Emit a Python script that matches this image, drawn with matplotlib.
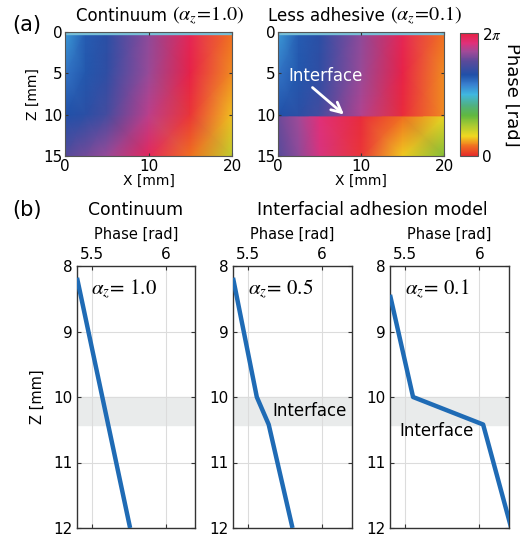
import numpy as np
import matplotlib
matplotlib.use("Agg")
import matplotlib.pyplot as plt
from matplotlib.colors import LinearSegmentedColormap, Normalize
from matplotlib.cm import ScalarMappable

plt.rcParams["font.family"] = ["DejaVu Sans"]
plt.rcParams["mathtext.fontset"] = "stix"

# ---- (a) phase maps, coarse grid (fraction of 2pi) ----
map_x = [0, 2.5, 5, 10, 15, 20]
cont_z = [0, 5, 10, 15]
cont_phase = [
    [0.54, 0.64, 0.68, 0.83, 0.97, 1.08],
    [0.60, 0.65, 0.69, 0.84, 0.99, 1.10],
    [0.66, 0.68, 0.73, 0.88, 1.02, 1.14],
    [0.76, 0.80, 0.84, 0.96, 1.08, 1.22],
]
less_z = [0, 5, 10.2, 10.3, 15]
less_phase = [
    [0.54, 0.64, 0.68, 0.83, 0.97, 1.08],
    [0.60, 0.65, 0.69, 0.84, 0.99, 1.10],
    [0.66, 0.68, 0.73, 0.87, 1.01, 1.10],
    [0.79, 0.85, 0.92, 1.01, 1.08, 1.17],
    [0.76, 0.83, 0.91, 1.02, 1.15, 1.29],
]

# ---- (b) depth profiles ----
z_cont = [8.18, 12.0]
ph_cont = [5.40, 5.76]
z_05 = [8.18, 10.0, 10.42, 12.0]
ph_05 = [5.40, 5.56, 5.64, 5.80]
z_01 = [8.44, 10.0, 10.42, 12.0]
ph_01 = [5.40, 5.555, 6.026, 6.215]
band = (10.0, 10.42)

# colormap (bottom 0 -> top 2pi)
cpos = [0.0, 0.08, 0.16, 0.24, 0.33, 0.41, 0.50, 0.58, 0.66, 0.77, 0.85, 0.92, 1.0]
ccol = ["#e52a2a", "#f07020", "#f0d820", "#b0cc30", "#60b840", "#50b080",
        "#40b8e0", "#3880d0", "#2050a8", "#5a4a9a", "#a04a98", "#e0307a", "#e82040"]
cmap1 = LinearSegmentedColormap.from_list("ph", list(zip(cpos, ccol)))
cmap2 = LinearSegmentedColormap.from_list(
    "ph2", list(zip([p / 2 for p in cpos], ccol)) + list(zip([0.5 + p / 2 for p in cpos[1:]], ccol[1:])), N=1024)

fig = plt.figure(figsize=(5.2, 5.37), dpi=100)
W, H = 520, 537


def px_axes(x0, y0, x1, y1):
    return fig.add_axes([x0 / W, 1 - y1 / H, (x1 - x0) / W, (y1 - y0) / H])


edge = "#333333"
axa1 = px_axes(65, 32, 232, 156)
axa2 = px_axes(278, 32, 444, 156)
for ax, zz, ph in [(axa1, cont_z, cont_phase), (axa2, less_z, less_phase)]:
    X, Z = np.meshgrid(map_x, zz)
    ax.pcolormesh(X, Z, np.array(ph) * 2 * np.pi, shading="gouraud", cmap=cmap2,
                  vmin=0, vmax=4 * np.pi, rasterized=True)
    ax.axhspan(0, 0.28, color="#78c0d8")
    ax.set_xlim(0, 20)
    ax.set_ylim(15, 0)
    ax.set_xticks([0, 10, 20])
    ax.set_yticks([0, 5, 10, 15])
    ax.tick_params(direction="in", length=2.5, labelsize=11, top=True, right=True,
                   color=edge, pad=2)
    for s in ax.spines.values():
        s.set_color("#555555")
    ax.set_xlabel("X [mm]", fontsize=10, labelpad=0)
axa1.set_ylabel("Z [mm]", fontsize=10, labelpad=2)

# titles: sans part followed by a serif math part
for x0, word, val in [(76, "Continuum ", "1.0"), (268, "Less adhesive ", "0.1")]:
    t = fig.text(x0 / W, 1 - 16 / H, word, fontsize=12, ha="left", va="center")
    plt.annotate(r"$(\alpha_z\!=\!%s)$" % val, xy=(1, 0.5), xycoords=t,
                 ha="left", va="center", fontsize=14.5)

axa2.text(1.2, 5.3, "Interface", color="white", fontsize=12, va="center")
axa2.annotate("", xy=(8.2, 10.2), xytext=(3.9, 6.5),
              arrowprops=dict(arrowstyle="->", color="white", lw=2, mutation_scale=18))

cax = px_axes(460, 33, 478, 156)
cb = fig.colorbar(ScalarMappable(norm=Normalize(0, 2 * np.pi), cmap=cmap1), cax=cax)
cb.set_ticks([0, 2 * np.pi])
cb.set_ticklabels(["0", r"2$\pi$"])
cb.ax.tick_params(length=0, labelsize=11, pad=3)
cb.outline.set_edgecolor("#555555")
cb.set_label("Phase [rad]", rotation=-90, fontsize=13, labelpad=14)

fig.text(12 / W, 1 - 25 / H, "(a)", fontsize=15, va="center")
fig.text(12 / W, 1 - 210 / H, "(b)", fontsize=15, va="center")

# ---- (b) ----
boxes = [(77, 266, 195, 528), (233, 266, 352, 528), (390, 266, 509, 528)]
series = [(z_cont, ph_cont, "1.0"), (z_05, ph_05, "0.5"), (z_01, ph_01, "0.1")]
axes_b = []
for (x0, y0, x1, y1), (zz, ph, lab) in zip(boxes, series):
    ax = px_axes(x0, y0, x1, y1)
    axes_b.append(ax)
    ax.axhspan(band[0], band[1], color="#e9ebeb", zorder=0)
    ax.plot(ph, zz, color="#1f6bb5", lw=3.2, solid_capstyle="butt", zorder=3)
    ax.set_xlim(5.4, 6.2)
    ax.set_ylim(12, 8)
    ax.set_xticks([5.5, 6])
    ax.set_xticklabels(["5.5", "6"])
    ax.set_yticks([8, 9, 10, 11, 12])
    ax.grid(True, color="#dcdcdc", lw=0.8, zorder=1)
    ax.xaxis.tick_top()
    ax.xaxis.set_label_position("top")
    ax.set_xlabel("Phase [rad]", fontsize=10.5, labelpad=6)
    ax.tick_params(direction="in", length=3, labelsize=11, top=True, bottom=True,
                   left=True, right=True, labelbottom=False, labeltop=True,
                   color=edge, pad=3)
    for s in ax.spines.values():
        s.set_color(edge)
        s.set_linewidth(1.0)
    ax.text(0.40, 0.955, r"$\alpha_z\!=\,$" + r"$%s$" % lab, transform=ax.transAxes,
            ha="center", va="top", fontsize=15)

axes_b[0].set_ylabel("Z [mm]", fontsize=10.5, labelpad=6)
axes_b[1].text(5.665, 10.22, "Interface", fontsize=12, va="center")
axes_b[2].text(5.46, 10.52, "Interface", fontsize=12, va="center")
fig.text(136 / W, 1 - 210 / H, "Continuum", fontsize=12.4, ha="center", va="center")
fig.text(372 / W, 1 - 210 / H, "Interfacial adhesion model", fontsize=12.4,
         ha="center", va="center")

fig.savefig("out.png", dpi=100)
